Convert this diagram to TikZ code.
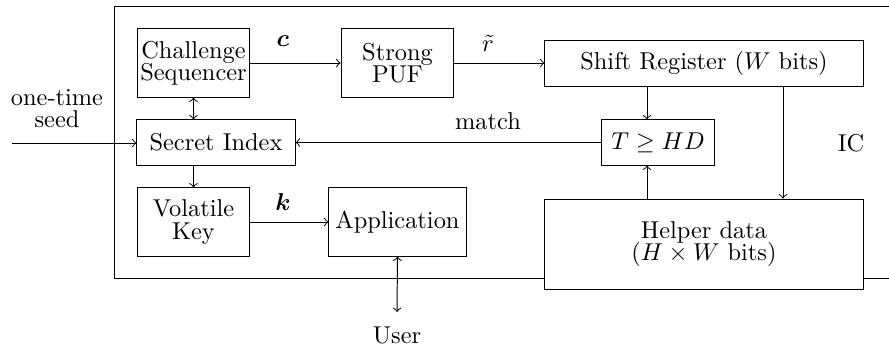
\documentclass[tikz,border=0pt]{standalone}
\usepackage{bm}
\begin{document}
\begin{tikzpicture}[x=0.41pt,y=-0.41pt,
  blk/.style={draw, align=center, inner sep=0pt},
  lbl/.style={inner sep=0pt, align=center},
  >=to]
\useasboundingbox (0,0) rectangle (889,348);
% blocks
\node[blk, minimum width=46.3pt, minimum height=27.9pt] (CS) at (193.5,63) {Challenge\\[-2.9pt]Sequencer};
\node[blk, minimum width=64.8pt, minimum height=18.5pt] (SI) at (216,142.5) {Secret Index};
\node[blk, minimum width=46.3pt, minimum height=27.9pt] (VK) at (193.5,222) {Volatile\\[-2.9pt]Key};
\node[blk, minimum width=46.3pt, minimum height=27.9pt] (PUF) at (397.5,63) {Strong\\[-2.9pt]PUF};
\node[blk, minimum width=130.4pt, minimum height=18.5pt] (SR) at (704,63.5) {Shift Register ($W$ bits)};
\node[blk, minimum width=46.7pt, minimum height=18.5pt] (T) at (658,142.5) {$T \geq HD$};
\node[blk, minimum width=56.2pt, minimum height=27.9pt] (App) at (397.5,222) {Application};
\node[blk, minimum width=130.4pt, minimum height=36.9pt] (HD) at (704,244) {Helper data\\[-2.9pt]($H \times W$ bits)};
% labels
\node[lbl] (seed) at (57,109) {one-time\\[-2.9pt]seed};
\node[lbl] (user) at (397,335) {User};
\node[lbl] (ic) at (851,143) {IC};
\node[lbl] (lc) at (283,41) {$\bm{c}$};
\node[lbl] (lk) at (283,202) {$\bm{k}$};
\node[lbl] (lr) at (488,43) {$\tilde{r}$};
\node[lbl] (lm) at (488,121) {match};
% coordinates
\coordinate (seedin) at (12,143);
\coordinate (userend) at (397,312);
\coordinate (xa) at (647,0);
\coordinate (xb) at (783,0);
\coordinate (icTL) at (114,6);
\coordinate (icTR) at (889,6);
\coordinate (icBL) at (114,278);
\coordinate (icBR) at (889,278);
% IC border
\draw (icTR) -- (icTL) -- (icBL) -- (icBL -| HD.west);
\draw (icBR -| HD.east) -- (icBR);
% connectors
\draw[->] (CS.east) -- (CS.east -| PUF.west);
\draw[->] (PUF.east) -- (PUF.east -| SR.west);
\draw[<->] (CS.south) -- (CS.south |- SI.north);
\draw[->] (CS.south |- SI.south) -- (VK.north);
\draw[->] (VK.east) -- (VK.east -| App.west);
\draw[<->] (App.south) -- (userend);
\draw[->] (seedin) -- (seedin -| SI.west);
\draw[->] (T.west) -- (SI.east);
\draw[->] (SR.south -| xa) -- (T.north -| xa);
\draw[->] (HD.north -| xa) -- (T.south -| xa);
\draw[->] (SR.south -| xb) -- (HD.north -| xb);
\end{tikzpicture}
\end{document}
